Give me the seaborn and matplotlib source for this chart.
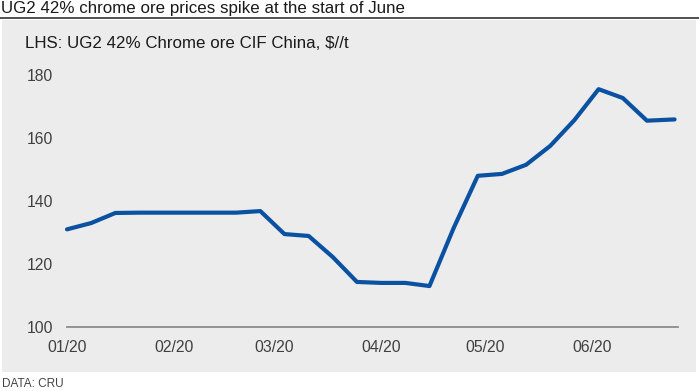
import matplotlib
matplotlib.use("Agg")
import matplotlib.pyplot as plt
import matplotlib.dates as mdates
from matplotlib.patches import Rectangle
from matplotlib.lines import Line2D
import seaborn as sns
import pandas as pd

dates = ["2020-01-01", "2020-01-08", "2020-01-15", "2020-01-22", "2020-01-29",
         "2020-02-05", "2020-02-12", "2020-02-19", "2020-02-26", "2020-03-04",
         "2020-03-11", "2020-03-18", "2020-03-25", "2020-04-01", "2020-04-08",
         "2020-04-15", "2020-04-22", "2020-04-29", "2020-05-06", "2020-05-13",
         "2020-05-20", "2020-05-27", "2020-06-03", "2020-06-10", "2020-06-17",
         "2020-06-25"]
prices = [131.0, 133.0, 136.2, 136.3, 136.3, 136.3, 136.3, 136.3, 136.8, 129.5,
          128.9, 122.2, 114.3, 114.0, 114.0, 113.0, 131.4, 148.0, 148.6, 151.5,
          157.5, 165.7, 175.5, 172.7, 165.5, 165.9]
month_ticks = ["2020-01-01", "2020-02-01", "2020-03-01", "2020-04-01", "2020-05-01", "2020-06-01"]
y_ticks = [100, 120, 140, 160, 180]

title = "UG2 42% chrome ore prices spike at the start of June"
subtitle = "LHS: UG2 42% Chrome ore CIF China, $//t"
source = "DATA: CRU"

sns.set_style("white")
plt.rcParams["font.family"] = ["Liberation Sans", "DejaVu Sans"]

df = pd.DataFrame({"date": pd.to_datetime(dates), "price": prices})

W, H = 699, 391
fig = plt.figure(figsize=(W / 100, H / 100), dpi=100)
fig.patch.set_facecolor("white")

# gray panel
fig.add_artist(Rectangle((2 / W, 1 - 372 / H), 694 / W, 352 / H,
                         transform=fig.transFigure, facecolor="#ececec",
                         edgecolor="none", zorder=0))
# rule under title
fig.add_artist(Line2D([0, 1], [1 - 17.5 / H, 1 - 17.5 / H], transform=fig.transFigure,
                      color="#333333", linewidth=1.2))

fig.text(1 / W, 1 - 8 / H, title, ha="left", va="center", fontsize=12.2, color="#1a1a1a")
fig.text(25 / W, 1 - 43 / H, subtitle, ha="left", va="center", fontsize=12.2, color="#1a1a1a")
fig.text(2 / W, 1 - 384 / H, source, ha="left", va="center", fontsize=8.5, color="#444444")

ax = fig.add_axes([67 / W, 1 - 327 / H, (678 - 67) / W, (327 - 75) / H])
ax.set_facecolor("none")

sns.lineplot(data=df, x="date", y="price", ax=ax, color="#0a51a1", linewidth=3.0,
             solid_joinstyle="round", solid_capstyle="round", clip_on=False)

ax.set_xlim(pd.Timestamp("2020-01-01"), pd.Timestamp("2020-06-26"))
ax.set_ylim(100, 180)
ax.set_yticks(y_ticks)
ax.set_xticks(pd.to_datetime(month_ticks))
ax.xaxis.set_major_formatter(mdates.DateFormatter("%m/%y"))
ax.set_xlabel("")
ax.set_ylabel("")

for s in ["top", "right", "left"]:
    ax.spines[s].set_visible(False)
ax.spines["bottom"].set_color("#8c8c8c")
ax.spines["bottom"].set_linewidth(1.3)

ax.tick_params(axis="y", length=0, pad=10, labelsize=11.3, labelcolor="#404040")
ax.tick_params(axis="x", length=3.5, width=1.2, color="#8c8c8c", direction="out",
               pad=5.5, labelsize=11.3, labelcolor="#404040")
ax.grid(False)

fig.savefig("out.png", dpi=100)
